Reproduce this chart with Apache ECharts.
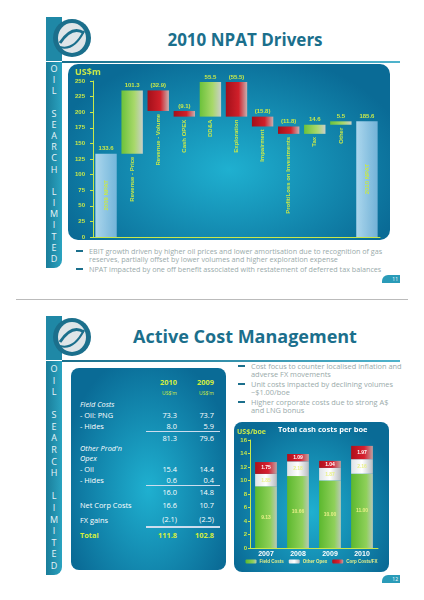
<!DOCTYPE html>
<html><head><meta charset="utf-8">
<script src="https://cdn.jsdelivr.net/npm/echarts@6/dist/echarts.min.js"></script>
<style>
body{margin:0;width:424px;height:600px;background:#fff;position:relative;overflow:hidden;font-family:"Open Sans",sans-serif}
.abs{position:absolute}
.side{position:absolute;left:46px;width:16px;background:linear-gradient(90deg,#1a7d9a,#2aa3c0);color:#e8f4f8;font-size:9px;line-height:10px;display:flex;flex-direction:column;align-items:center;justify-content:space-between;box-sizing:border-box;border-bottom-right-radius:8px}
.side span{display:block;height:10px}
.logo{position:absolute;left:46px;width:54px;height:44px}
.title{position:absolute;color:#1b6f8c;font-weight:bold;text-align:center}
.hline{position:absolute;height:2px;background:linear-gradient(90deg,#1b6f8c,#4fb3cc)}
.panel{position:absolute;border-radius:10px;background:radial-gradient(ellipse at 50% 60%,#1fb0d0,#0a6b96 80%)}
.bul{position:absolute;color:#9aa;font-size:7.2px;line-height:8px}
.bul div{position:relative;padding-left:13px;margin-bottom:2px}
.bul div:before{content:"";position:absolute;left:0;top:3px;width:7px;height:2px;background:#1b6f8c}
.badge{position:absolute;width:18px;height:8px;background:#2a9bb8;border-top-left-radius:6px;color:#fff;font-size:5px;text-align:right;padding-right:2px;box-sizing:border-box;line-height:8px}
table{border-collapse:collapse;color:#fff;font-size:7.4px}
td{padding:0 0 0 0;height:11px}
</style></head><body>
<svg class="logo" style="top:17px" viewBox="0 0 54 44"><rect x="0" y="0" width="16" height="44" fill="#1f88a6"/><ellipse cx="26" cy="21" rx="19" ry="19" fill="#1b6f8c"/><ellipse cx="26" cy="21" rx="14" ry="15" fill="#dfe5e8"/><path d="M14 26 Q26 8 38 16" stroke="#1b6f8c" stroke-width="3" fill="none"/><path d="M14 30 Q28 34 38 14" stroke="#1b6f8c" stroke-width="2" fill="none"/></svg>
<div class="title" style="left:100px;width:290px;top:28px;font-size:17px">2010 NPAT Drivers</div>
<div class="hline" style="left:62px;width:338px;top:61px"></div>
<div class="side" style="top:62px;height:206px;padding:2px 0 4px"><span>O</span><span>I</span><span>L</span><span>&nbsp;</span><span>S</span><span>E</span><span>A</span><span>R</span><span>C</span><span>H</span><span>&nbsp;</span><span>L</span><span>I</span><span>M</span><span>I</span><span>T</span><span>E</span><span>D</span></div>
<div class="panel" style="left:68px;top:64px;width:322px;height:176px"></div>
<div id="c1" class="abs" style="left:68px;top:64px;width:322px;height:176px"></div>
<div class="bul" style="left:76px;top:247px;width:320px"><div>EBIT growth driven by higher oil prices and lower amortisation due to recognition of gas reserves, partially offset by lower volumes and higher exploration expense</div><div>NPAT impacted by one off benefit associated with restatement of deferred tax balances</div></div>
<div class="badge" style="left:382px;top:275px">11</div>
<div class="abs" style="left:16px;top:299px;width:392px;height:1px;background:#bbb"></div>

<svg class="logo" style="top:316px" viewBox="0 0 54 44"><rect x="0" y="0" width="16" height="44" fill="#1f88a6"/><ellipse cx="26" cy="21" rx="19" ry="19" fill="#1b6f8c"/><ellipse cx="26" cy="21" rx="14" ry="15" fill="#dfe5e8"/><path d="M14 26 Q26 8 38 16" stroke="#1b6f8c" stroke-width="3" fill="none"/><path d="M14 30 Q28 34 38 14" stroke="#1b6f8c" stroke-width="2" fill="none"/></svg>
<div class="title" style="left:100px;width:290px;top:324px;font-size:18px">Active Cost Management</div>
<div class="hline" style="left:62px;width:338px;top:360px"></div>
<div class="side" style="top:361px;height:214px;padding:3px 0 4px"><span>O</span><span>I</span><span>L</span><span>&nbsp;</span><span>S</span><span>E</span><span>A</span><span>R</span><span>C</span><span>H</span><span>&nbsp;</span><span>L</span><span>I</span><span>M</span><span>I</span><span>T</span><span>E</span><span>D</span></div>
<div class="panel" style="left:71px;top:368px;width:155px;height:202px;border-radius:8px"></div>
<div class="abs" style="left:80px;top:376px;width:140px">
<table style="width:140px">
<tr><td style="width:66px"></td><td style="text-align:right;color:#d7ef3c;font-weight:bold;padding-right:6px">2010</td><td style="text-align:right;color:#d7ef3c;font-weight:bold;padding-right:6px">2009</td></tr>
<tr><td></td><td style="text-align:right;color:#d7ef3c;font-size:5px;padding-right:6px">US$'m</td><td style="text-align:right;color:#d7ef3c;font-size:5px;padding-right:6px">US$'m</td></tr>
<tr><td style="font-style:italic">Field Costs</td><td></td><td></td></tr>
<tr><td>- Oil: PNG</td><td align="right" style="padding-right:6px">73.3</td><td align="right" style="padding-right:6px">73.7</td></tr>
<tr><td>- Hides</td><td align="right" style="padding-right:6px;border-bottom:1px solid #cde">8.0</td><td align="right" style="padding-right:6px;border-bottom:1px solid #cde">5.9</td></tr>
<tr><td></td><td align="right" style="padding-right:6px">81.3</td><td align="right" style="padding-right:6px">79.6</td></tr>
<tr><td style="font-style:italic;line-height:10px;height:20px">Other Prod'n<br>Opex</td><td></td><td></td></tr>
<tr><td>- Oil</td><td align="right" style="padding-right:6px">15.4</td><td align="right" style="padding-right:6px">14.4</td></tr>
<tr><td>- Hides</td><td align="right" style="padding-right:6px;border-bottom:1px solid #cde">0.6</td><td align="right" style="padding-right:6px;border-bottom:1px solid #cde">0.4</td></tr>
<tr><td></td><td align="right" style="padding-right:6px">16.0</td><td align="right" style="padding-right:6px">14.8</td></tr>
<tr><td style="height:15px">Net Corp Costs</td><td align="right" style="padding-right:6px">16.6</td><td align="right" style="padding-right:6px">10.7</td></tr>
<tr><td style="height:15px">FX gains</td><td align="right" style="padding-right:6px;border-bottom:2px double #cde">(2.1)</td><td align="right" style="padding-right:6px;border-bottom:2px double #cde">(2.5)</td></tr>
<tr style="color:#d7ef3c;font-weight:bold"><td style="height:15px">Total</td><td align="right" style="padding-right:6px">111.8</td><td align="right" style="padding-right:6px">102.8</td></tr>
</table></div>
<div class="bul" style="left:238px;top:362px;width:165px;font-size:7.4px"><div>Cost focus to counter localised inflation and adverse FX movements</div><div>Unit costs impacted by declining volumes ~$1.00/boe</div><div>Higher corporate costs due to strong A$ and LNG bonus</div></div>
<div class="panel" style="left:234px;top:422px;width:155px;height:150px;border-radius:8px"></div>
<div id="c2" class="abs" style="left:234px;top:422px;width:155px;height:150px"></div>
<div class="badge" style="left:382px;top:575px">12</div>
<script>
var wfCategories=['2009 NPAT','Revenue - Price','Revenue - Volume','Cash OPEX','DD&A','Exploration','Impairment','Profit/Loss on Investments','Tax','Other','2010 NPAT'];
var wfChanges=[133.6,101.3,-32.9,-9.1,55.5,-55.5,-15.8,-11.8,14.6,5.5,185.6];
var wfLabels=['133.6','101.3','(32.9)','(9.1)','55.5','(55.5)','(15.8)','(11.8)','14.6','5.5','185.6'];
var yTicks1=[0,25,50,75,100,125,150,175,200,225,250];
var costYears=['2007','2008','2009','2010'];
var fieldCosts=[9.13,10.66,10.00,11.00];
var otherOpex=[1.85,2.18,1.87,2.16];
var corpCosts=[1.75,1.09,1.04,1.97];

var Y='#c8e84a';
var gGreen=new echarts.graphic.LinearGradient(0,0,1,0,[{offset:0,color:'#6cc23a'},{offset:0.6,color:'#a8d86a'},{offset:1,color:'#c9cfc9'}]);
var gRed=new echarts.graphic.LinearGradient(0,0,1,0,[{offset:0,color:'#a3101a'},{offset:0.6,color:'#d0202a'},{offset:1,color:'#c9b0b0'}]);
var gBlue=new echarts.graphic.LinearGradient(0,0,1,0,[{offset:0,color:'rgba(190,225,245,0.9)'},{offset:1,color:'rgba(150,200,235,0.75)'}]);
var base=[],vis=[],run=0;
wfChanges.forEach(function(v,i){
  if(i===0||i===wfChanges.length-1){base.push(0);vis.push({value:v,itemStyle:{color:gBlue}});run=v;}
  else{var lo=v>0?run:run+v;base.push(lo);vis.push({value:Math.abs(v),itemStyle:{color:v>0?gGreen:gRed}});run+=v;}
});
var c1=echarts.init(document.getElementById('c1'));
c1.setOption({
  grid:{left:25,right:10,top:17,bottom:2},
  graphic:[{type:'text',left:7,top:4,style:{text:'US$m',fill:Y,font:'bold 9px "Open Sans"'}}],
  xAxis:{type:'category',data:wfCategories,axisLabel:{show:false},axisTick:{show:false},axisLine:{lineStyle:{color:Y}}},
  yAxis:{type:'value',min:0,max:250,interval:25,axisLabel:{color:Y,fontSize:6,fontWeight:'bold'},axisLine:{show:true,lineStyle:{color:Y}},axisTick:{show:true,length:3,lineStyle:{color:Y}},splitLine:{show:false}},
  series:[
   {type:'bar',stack:'w',data:base,barWidth:'82%',itemStyle:{color:'transparent'},silent:true,
    label:{show:true,position:'insideTop',rotate:90,align:'right',verticalAlign:'middle',distance:3,color:Y,fontSize:6,fontWeight:'bold',
      formatter:function(p){var i=p.dataIndex;return (i===0||i===wfCategories.length-1)?'':wfCategories[i];}}},
   {type:'bar',stack:'w',data:vis,
    label:{show:true,position:'top',distance:2,color:Y,fontSize:6,fontWeight:'bold',formatter:function(p){return wfLabels[p.dataIndex];}}},
   {type:'bar',barGap:'-100%',data:wfChanges.map(function(v,i){return (i===0||i===wfChanges.length-1)?v:'-';}),barWidth:'82%',itemStyle:{color:'transparent'},
    label:{show:true,position:'inside',rotate:90,color:Y,fontSize:6,fontWeight:'bold',formatter:function(p){return wfCategories[p.dataIndex];}}}
  ]});
var gG2=new echarts.graphic.LinearGradient(0,0,1,0,[{offset:0,color:'#5cb82e'},{offset:0.7,color:'#8fd05a'},{offset:1,color:'#b8c8b8'}]);
var gW2=new echarts.graphic.LinearGradient(0,0,1,0,[{offset:0,color:'#dfe3e5'},{offset:0.5,color:'#ffffff'},{offset:1,color:'#b8bcc0'}]);
var gR2=new echarts.graphic.LinearGradient(0,0,1,0,[{offset:0,color:'#b0101a'},{offset:0.6,color:'#d82030'},{offset:1,color:'#c0a0a0'}]);
var c2=echarts.init(document.getElementById('c2'));
var lab={show:true,position:'inside',fontSize:5,fontWeight:'bold',formatter:function(p){return p.value.toFixed(2);}};
c2.setOption({
  grid:{left:16,right:11,top:18,bottom:24},
  graphic:[{type:'text',left:3,top:6,style:{text:'US$/boe',fill:Y,font:'bold 7px "Open Sans"'}},
           {type:'text',left:44,top:4,style:{text:'Total cash costs per boe',fill:'#fff',font:'bold 7.5px "Open Sans"'}}],
  legend:{bottom:3,left:'center',itemWidth:11,itemHeight:4,itemGap:5,textStyle:{color:'#e8f088',fontSize:4.5,fontWeight:'bold',padding:[0,0,0,-2]}},
  xAxis:{type:'category',data:costYears,axisLabel:{color:'#fff',fontSize:7,fontWeight:'bold',margin:3},axisTick:{show:false},axisLine:{lineStyle:{color:Y}}},
  yAxis:{type:'value',min:0,max:16,interval:2,axisLabel:{color:Y,fontSize:6,fontWeight:'bold',margin:3},axisLine:{show:true,lineStyle:{color:Y}},axisTick:{show:true,length:2,lineStyle:{color:Y}},splitLine:{show:false}},
  series:[
   {name:'Field Costs',type:'bar',stack:'c',data:fieldCosts,barWidth:'68%',itemStyle:{color:gG2},label:Object.assign({},lab,{color:'#e8f088'})},
   {name:'Other Opex',type:'bar',stack:'c',data:otherOpex,itemStyle:{color:gW2},label:Object.assign({},lab,{color:'#e8f088'})},
   {name:'Corp Costs/FX',type:'bar',stack:'c',data:corpCosts,itemStyle:{color:gR2},label:Object.assign({},lab,{color:'#fff'})}
  ]});
</script></body></html>
